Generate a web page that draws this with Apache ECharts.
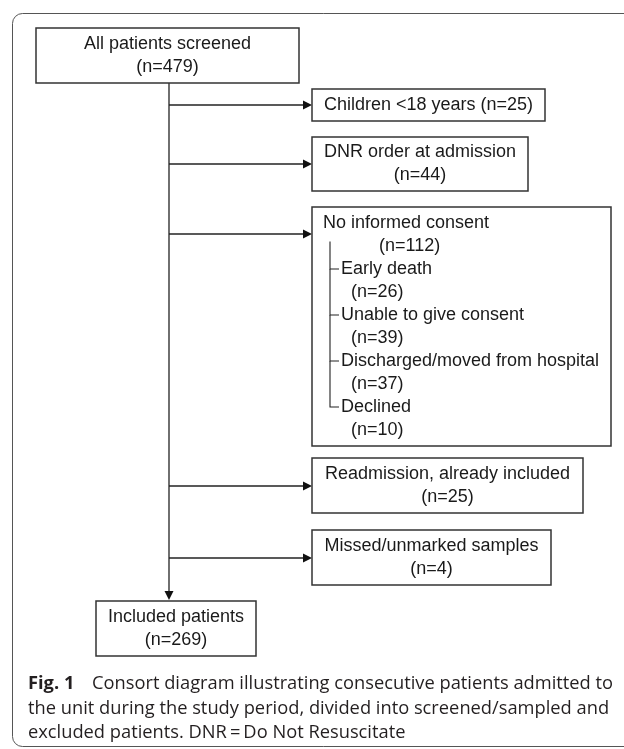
<!DOCTYPE html>
<html>
<head>
<meta charset="utf-8">
<script src="https://cdn.jsdelivr.net/npm/echarts@6/dist/echarts.min.js"></script>
<style>
html, body { margin: 0; padding: 0; background: #fff; }
#chart { width: 624px; height: 749px; }
</style>
</head>
<body>
<div id="chart"></div>
<script>
// 数据
const screenedLabel = 'All patients screened'
const screenedCount = 479
const excludedLabels = ['Children <18 years', 'DNR order at admission', 'No informed consent', 'Readmission, already included', 'Missed/unmarked samples']
const excludedCounts = [25, 44, 112, 25, 4]
const consentReasons = ['Early death', 'Unable to give consent', 'Discharged/moved from hospital', 'Declined']
const consentCounts = [26, 39, 37, 10]
const includedLabel = 'Included patients'
const includedCount = 269
const captionTag = 'Fig. 1'
const captionLines = [
    'Consort diagram illustrating consecutive patients admitted to',
    'the unit during the study period, divided into screened/sampled and',
    'excluded patients. DNR\u2009=\u2009Do Not Resuscitate'
]

// 布局 (像素坐标, 隐藏坐标轴 0..624 / 0..749)
const screenedBox = [36, 28, 299, 83]
const excludedBoxes = [
    [312, 89, 545, 121],
    [312, 137, 528, 191],
    [312, 207, 611, 446],
    [312, 458, 583, 513],
    [312, 530, 551, 585]
]
const excludedArrowY = [105, 164, 234, 486, 558]
const includedBox = [96, 601, 256, 656]
const trunkX = 169
const lineGap = 23
const consentTop = 223
const consentTextX = 323
const consentCountX = 379
const treeX = 330
const captionY = [684, 708.5, 733]

const FONT = '18px "Liberation Sans", Arial, sans-serif'
const CAPTION_FONT = '18.3px "Open Sans", sans-serif'
const INK = '#1a1a1a'

// 居中文字的框
function centeredNode (box, lines) {
    const cx = (box[0] + box[2]) / 2
    const cy = (box[1] + box[3]) / 2
    const off = (lines.length - 1) * lineGap / 2
    return {
        box,
        lines: lines.map((t, i) => ({ text: t, x: cx, y: cy - off + i * lineGap, align: 'center' }))
    }
}

const nodes = []
nodes.push(centeredNode(screenedBox, [screenedLabel, `(n=${screenedCount})`]))
excludedLabels.forEach((label, i) => {
    if (i === 0) {
        nodes.push(centeredNode(excludedBoxes[i], [`${label} (n=${excludedCounts[i]})`]))
    } else if (i === 2) {
        const lines = [
            { text: label, x: consentTextX, y: consentTop, align: 'left' },
            { text: `(n=${excludedCounts[i]})`, x: consentCountX, y: consentTop + lineGap, align: 'left' }
        ]
        consentReasons.forEach((r, k) => {
            const y = consentTop + lineGap * (2 + k * 2)
            lines.push({ text: r, x: treeX + 11, y, align: 'left' })
            lines.push({ text: `(n=${consentCounts[k]})`, x: treeX + 21, y: y + lineGap, align: 'left' })
        })
        nodes.push({ box: excludedBoxes[i], lines })
    } else {
        nodes.push(centeredNode(excludedBoxes[i], [label, `(n=${excludedCounts[i]})`]))
    }
})
nodes.push(centeredNode(includedBox, [includedLabel, `(n=${includedCount})`]))

// 箭头: 主干 + 排除分支
const arrows = [[trunkX, screenedBox[3], trunkX, includedBox[1] - 1]]
excludedBoxes.forEach((b, i) => arrows.push([trunkX, excludedArrowY[i], b[0], excludedArrowY[i]]))

// 子原因的树形线
const treeYs = consentReasons.map((_, k) => consentTop + lineGap * (2 + k * 2))

function renderBox (params, api) {
    const node = nodes[params.dataIndex]
    const [x0, y0, x1, y1] = node.box
    const p0 = api.coord([x0, y0])
    const p1 = api.coord([x1, y1])
    const children = [{
        type: 'rect',
        shape: { x: p0[0], y: p0[1], width: p1[0] - p0[0], height: p1[1] - p0[1] },
        style: { fill: '#fff', stroke: '#333', lineWidth: 1.5 }
    }]
    node.lines.forEach(l => {
        const p = api.coord([l.x, l.y])
        children.push({
            type: 'text',
            style: { text: l.text, x: p[0], y: p[1], fill: INK, font: FONT, align: l.align, verticalAlign: 'middle' }
        })
    })
    return { type: 'group', children }
}

function renderArrow (params, api) {
    const [x0, y0, x1, y1] = arrows[params.dataIndex]
    const a = api.coord([x0, y0])
    const b = api.coord([x1, y1])
    const len = Math.hypot(b[0] - a[0], b[1] - a[1])
    const ux = (b[0] - a[0]) / len
    const uy = (b[1] - a[1]) / len
    const hl = 9, hw = 4.5
    const base = [b[0] - ux * hl, b[1] - uy * hl]
    return {
        type: 'group',
        children: [{
            type: 'line',
            shape: { x1: a[0], y1: a[1], x2: base[0], y2: base[1] },
            style: { stroke: '#222', lineWidth: 1.3 }
        }, {
            type: 'polygon',
            shape: { points: [b, [base[0] - uy * hw, base[1] + ux * hw], [base[0] + uy * hw, base[1] - ux * hw]] },
            style: { fill: '#111' }
        }]
    }
}

function renderTree (params, api) {
    const k = params.dataIndex
    const y = treeYs[k]
    const top = k === 0 ? consentTop + lineGap * 0.8 : treeYs[k - 1]
    const a = api.coord([treeX, top])
    const b = api.coord([treeX, y])
    const c = api.coord([treeX + 9, y])
    return {
        type: 'polyline',
        shape: { points: [a, b, c] },
        style: { stroke: '#222', lineWidth: 1.1, fill: null }
    }
}

const chart = echarts.init(document.getElementById('chart'), null, { renderer: 'canvas' })

chart.setOption({
    animation: false,
    backgroundColor: '#fff',
    grid: { left: 0, right: 0, top: 0, bottom: 0 },
    xAxis: { type: 'value', min: 0, max: 624, show: false },
    yAxis: { type: 'value', min: 0, max: 749, inverse: true, show: false },
    graphic: [
        {
            type: 'rect',
            shape: { x: 12.5, y: 13.5, width: 700, height: 733, r: 10 },
            style: { fill: 'none', stroke: '#555', lineWidth: 1 },
            z: 0
        },
        {
            type: 'text',
            style: { text: captionTag, x: 28, y: captionY[0], font: 'bold ' + CAPTION_FONT, fill: '#231f20', verticalAlign: 'middle' }
        },
        {
            type: 'text',
            style: { text: captionLines[0], x: 92, y: captionY[0], font: CAPTION_FONT, fill: '#231f20', verticalAlign: 'middle' }
        },
        {
            type: 'text',
            style: { text: captionLines[1], x: 28, y: captionY[1], font: CAPTION_FONT, fill: '#231f20', verticalAlign: 'middle' }
        },
        {
            type: 'text',
            style: { text: captionLines[2], x: 28, y: captionY[2], font: CAPTION_FONT, fill: '#231f20', verticalAlign: 'middle' }
        }
    ],
    series: [
        {
            type: 'custom',
            name: 'arrows',
            renderItem: renderArrow,
            data: arrows.map((_, i) => [i, 0]),
            silent: true,
            z: 2
        },
        {
            type: 'custom',
            name: 'boxes',
            renderItem: renderBox,
            data: nodes.map((_, i) => [i, 0]),
            silent: true,
            z: 3
        },
        {
            type: 'custom',
            name: 'tree',
            renderItem: renderTree,
            data: treeYs.map((_, i) => [i, 0]),
            silent: true,
            z: 4
        }
    ]
})
</script>
</body>
</html>
